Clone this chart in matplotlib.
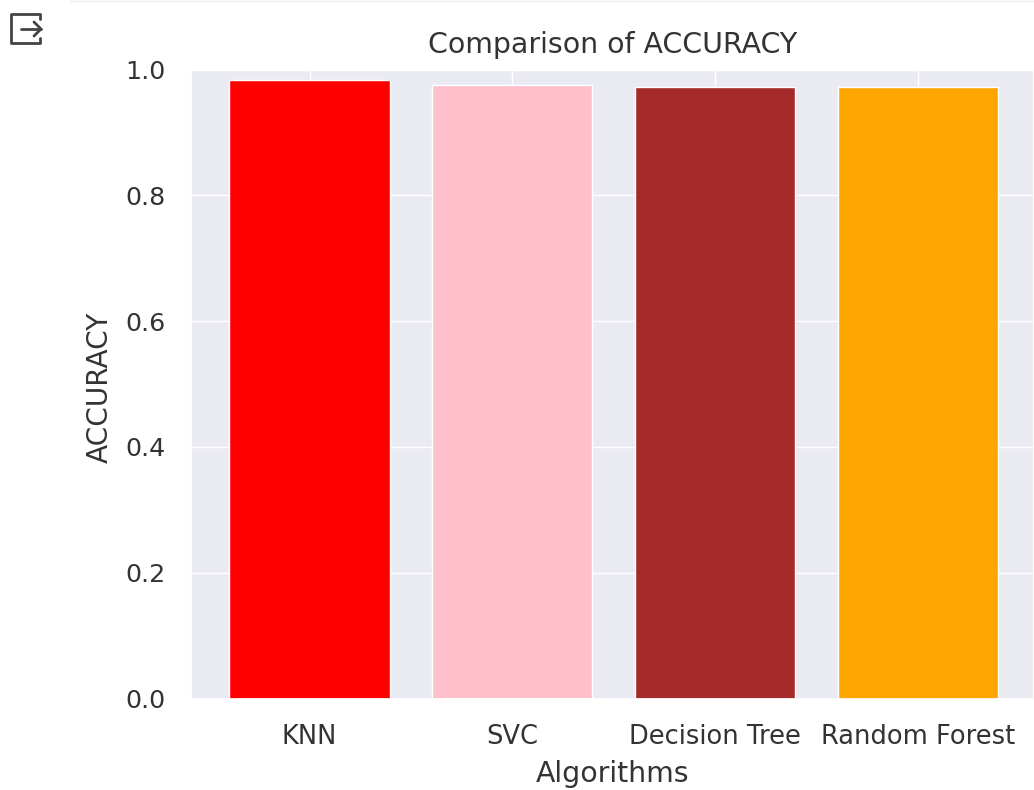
import matplotlib
matplotlib.use("Agg")
import matplotlib.pyplot as plt
import seaborn as sns
from matplotlib.lines import Line2D

algorithms = ["KNN", "SVC", "Decision Tree", "Random Forest"]
accuracy = [0.984, 0.975, 0.972, 0.972]
colors = ["red", "pink", "brown", "orange"]

sns.set_theme()
W, H = 1034, 790
text_color = "#333333"
fig = plt.figure(figsize=(W/100, H/100), dpi=100)
ax = fig.add_axes([190.5/W, 1-698.5/H, (1034-190.5)/W, (698.5-69.5)/H])
ax.bar(algorithms, accuracy, color=colors, width=0.79)
ax.set_ylim(0, 1.0)
ax.set_xlim(-0.587, 3.572)
ax.tick_params(axis="x", labelsize=18.5, labelcolor=text_color, pad=12.5)
ax.tick_params(axis="y", labelsize=18.2, labelcolor=text_color, pad=12)
ax.set_title("Comparison of ACCURACY", fontsize=20.4, color=text_color, pad=12)
ax.set_xlabel("Algorithms", fontsize=20.4, color=text_color, labelpad=7)
ax.set_ylabel("ACCURACY", fontsize=20.2, color=text_color, labelpad=8, y=0.494)

fig.add_artist(Line2D([70/W, 1], [1-1/H, 1-1/H], color="#eeeeee", lw=1))

# Output-cell icon at top left (page furniture, not data)
def px_line(xs, ys):
    fig.add_artist(Line2D([x/W for x in xs], [1-y/H for y in ys],
                          color="#444444", lw=2, solid_capstyle="round",
                          solid_joinstyle="round"))
px_line([40, 40, 11, 11, 40, 40], [19, 14, 14, 43, 43, 38])
px_line([21, 41], [29, 29])
px_line([34, 41, 34], [22, 29, 36])

fig.savefig("out.png", dpi=100)
